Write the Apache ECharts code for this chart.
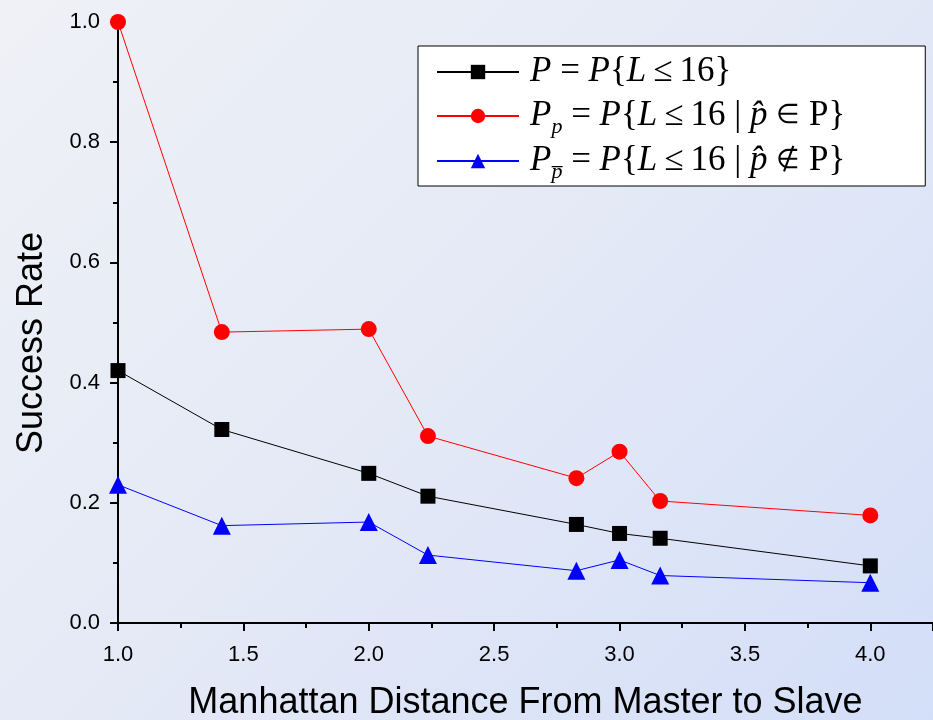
<!DOCTYPE html>
<html lang="en">
  <head>
    <meta charset="UTF-8" />
    <title>Success Rate</title>
    <style>
      html, body { margin: 0; padding: 0; }
      #main {
        width: 933px;
        height: 720px;
        background: linear-gradient(135deg, #eff1f6 0%, #e4e9f6 50%, #d3def8 100%);
      }
    </style>
  </head>
  <body>
    <div id="main"></div>
    <script src="https://cdn.jsdelivr.net/npm/echarts@6/dist/echarts.min.js"></script>
    <script>
      // distances (sqrt of squared grid distance)
      const distances = [1, 1.414, 2, 2.236, 2.828, 3, 3.162, 4]
      const rateAll = [0.42, 0.322, 0.249, 0.211, 0.164, 0.149, 0.141, 0.095]
      const rateInP = [1.0, 0.484, 0.489, 0.311, 0.241, 0.285, 0.203, 0.179]
      const rateNotInP = [0.23, 0.162, 0.168, 0.113, 0.087, 0.105, 0.079, 0.067]
      const xTicks = [1.0, 1.5, 2.0, 2.5, 3.0, 3.5, 4.0]
      const yTicks = [0.0, 0.2, 0.4, 0.6, 0.8, 1.0]

      const pairs = values => distances.map((d, i) => [d, values[i]])

      const myChart = echarts.init(document.getElementById('main'))

      const serif = 'Liberation Serif, Times New Roman, serif'
      const sans = 'Liberation Sans, Arial, sans-serif'

      const legendText = {
        all: '{it|P} = {it|P}{{it|L}\u2009≤\u200916}',
        inP: '{it|P}{sub|p} = {it|P}{{it|L}\u2009≤\u200916 | {it|p\u0302} {sym|∈} P}',
        notInP: '{it|P}{sub|p\u0305} = {it|P}{{it|L}\u2009≤\u200916 | {it|p\u0302} {sym|∉} P}'
      }

      const option = {
        animation: false,
        grid: { left: 118, right: 0, top: 22, bottom: 97, outerBoundsMode: 'none', containLabel: false },

        xAxis: {
          type: 'value',
          min: 1,
          max: 4.25,
          interval: 0.5,
          name: 'Manhattan Distance From Master to Slave',
          nameLocation: 'middle',
          nameGap: 62,
          nameTextStyle: { fontFamily: sans, fontSize: 36, color: '#000' },
          axisLine: { lineStyle: { color: '#000', width: 2 } },
          axisTick: { inside: false, length: 8, lineStyle: { color: '#000', width: 2 } },
          minorTick: { show: true, splitNumber: 2, length: 5, lineStyle: { color: '#000', width: 2 } },
          splitLine: { show: false },
          axisLabel: {
            showMaxLabel: false,
            margin: 21,
            fontFamily: sans,
            fontSize: 22,
            color: '#000',
            formatter: v => (xTicks.includes(v) ? v.toFixed(1) : '')
          }
        },

        yAxis: {
          type: 'value',
          min: 0,
          max: 1,
          interval: 0.2,
          axisLine: { show: true, lineStyle: { color: '#000', width: 2 } },
          axisTick: { show: true, length: 8, lineStyle: { color: '#000', width: 2 } },
          minorTick: { show: true, splitNumber: 2, length: 5, lineStyle: { color: '#000', width: 2 } },
          splitLine: { show: false },
          axisLabel: {
            margin: 18,
            fontFamily: sans,
            fontSize: 22,
            color: '#000',
            formatter: v => (yTicks.includes(+v.toFixed(1)) ? v.toFixed(1) : '')
          }
        },

        legend: {
          orient: 'vertical',
          left: 418,
          top: 46,
          width: 484,
          padding: [5, 80, 3, 18],
          backgroundColor: '#fff',
          borderColor: '#000',
          borderWidth: 1,
          borderRadius: 0,
          itemWidth: 82,
          itemHeight: 18,
          itemGap: 1,
          textStyle: {
            fontFamily: serif,
            fontSize: 35,
            color: '#000',
            padding: [0, 0, 0, 6],
            lineHeight: 42,
            rich: {
              it: { fontFamily: serif, fontStyle: 'italic', fontSize: 35, lineHeight: 42 },
              sym: { fontFamily: serif, fontSize: 27, lineHeight: 42 },
              sub: { fontFamily: serif, fontStyle: 'italic', fontSize: 22, lineHeight: 42, padding: [22, 0, 0, 0] }
            }
          },
          formatter: name => legendText[name],
          data: ['all', 'inP', 'notInP']
        },

        graphic: [
          {
            type: 'text',
            left: 14,
            top: 232,
            rotation: Math.PI / 2,
            style: {
              text: 'Success Rate',
              fontFamily: sans,
              fontSize: 36,
              fill: '#000'
            }
          }
        ],

        series: [
          {
            name: 'all',
            type: 'line',
            data: pairs(rateAll),
            symbol: 'rect',
            symbolSize: 15,
            color: '#000',
            lineStyle: { width: 1, color: '#000' },
            itemStyle: { color: '#000' }
          },
          {
            name: 'inP',
            type: 'line',
            data: pairs(rateInP),
            symbol: 'circle',
            symbolSize: 16,
            color: '#ff0000',
            lineStyle: { width: 1, color: '#ff0000' },
            itemStyle: { color: '#ff0000' }
          },
          {
            name: 'notInP',
            type: 'line',
            data: pairs(rateNotInP),
            symbol: 'triangle',
            symbolSize: 18,
            color: '#0000ff',
            lineStyle: { width: 1, color: '#0000ff' },
            itemStyle: { color: '#0000ff' }
          }
        ]
      }

      myChart.setOption(option)
    </script>
  </body>
</html>
